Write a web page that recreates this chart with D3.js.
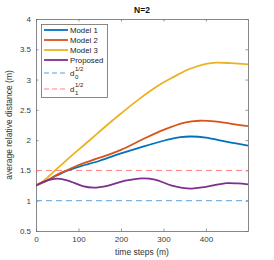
<!DOCTYPE html>
<html>
<head>
<meta charset="utf-8">
<script src="https://cdn.jsdelivr.net/npm/d3@7"></script>
<style>
  body { margin: 0; background: #fff; }
  text { font-family: "Liberation Sans", Arial, sans-serif; }
</style>
</head>
<body>
<div id="chart"></div>
<script>
// time steps and series values
var tModel1 = [0, 25, 50, 75, 100, 150, 200, 250, 300, 340, 365, 400, 450, 499];
var vModel1 = [1.25, 1.33, 1.42, 1.5, 1.56, 1.66, 1.78, 1.89, 1.99, 2.05, 2.06, 2.04, 1.97, 1.91];

var tModel2 = [0, 25, 50, 75, 100, 150, 200, 250, 300, 350, 385, 420, 460, 499];
var vModel2 = [1.25, 1.33, 1.43, 1.51, 1.59, 1.71, 1.84, 2.01, 2.17, 2.29, 2.32, 2.31, 2.27, 2.23];

var tModel3 = [0, 20, 45, 80, 125, 164, 200, 245, 290, 323, 360, 400, 425, 460, 499];
var vModel3 = [1.25, 1.34, 1.5, 1.72, 1.99, 2.23, 2.44, 2.69, 2.91, 3.04, 3.17, 3.26, 3.28, 3.27, 3.25];

var tProposed = [0, 25, 50, 80, 110, 136, 170, 210, 250, 280, 320, 365, 400, 449, 475, 499];
var vProposed = [1.25, 1.33, 1.365, 1.32, 1.24, 1.215, 1.25, 1.33, 1.37, 1.35, 1.25, 1.2, 1.23, 1.29, 1.285, 1.27];

var d0 = 1.0, d1 = 1.5;

var xTicks = [0, 100, 200, 300, 400];
var yTicks = [0.5, 1, 1.5, 2, 2.5, 3, 3.5, 4];

var seriesNames = ["Model 1", "Model 2", "Model 3", "Proposed"];
var seriesColors = ["#0072BD", "#D95319", "#EDB120", "#7E2F8E"];

var W = 274, H = 260;
var margin = {top: 19, right: 26, bottom: 29, left: 36};
var innerW = W - margin.left - margin.right;
var innerH = H - margin.top - margin.bottom;

var svg = d3.select("#chart").append("svg")
  .attr("width", W).attr("height", H);

var g = svg.append("g").attr("transform", "translate(" + margin.left + "," + margin.top + ")");

var x = d3.scaleLinear().domain([0, 499]).range([0, innerW]);
var y = d3.scaleLinear().domain([0.5, 4]).range([innerH, 0]);

// box + ticks
var tickLen = 2.5;
var axisColor = "#6b6b6b";

function styleAxis(sel) {
  sel.select(".domain").remove();
  sel.selectAll("line").attr("stroke", axisColor).attr("stroke-width", 0.7);
  sel.selectAll("text").attr("fill", "#3a3a3a").style("font-size", "8px");
}

g.append("g").attr("transform", "translate(0," + innerH + ")")
  .call(d3.axisBottom(x).tickValues(xTicks).tickSize(-tickLen).tickPadding(5).tickFormat(d3.format("d")))
  .call(styleAxis);
g.append("g")
  .call(d3.axisTop(x).tickValues(xTicks).tickSize(-tickLen).tickFormat(""))
  .call(styleAxis);
g.append("g")
  .call(d3.axisLeft(y).tickValues(yTicks).tickSize(-tickLen).tickPadding(5).tickFormat(function(d){ return String(d); }))
  .call(styleAxis);
g.append("g").attr("transform", "translate(" + innerW + ",0)")
  .call(d3.axisRight(y).tickValues(yTicks).tickSize(-tickLen).tickFormat(""))
  .call(styleAxis);

g.append("rect")
  .attr("x", 0.5).attr("y", 0.5)
  .attr("width", innerW).attr("height", innerH)
  .attr("fill", "none").attr("stroke", axisColor).attr("stroke-width", 0.8);

// dashed reference lines
g.append("line")
  .attr("x1", x(0)).attr("x2", x(499))
  .attr("y1", y(d0)).attr("y2", y(d0))
  .attr("stroke", "#5d9fd8").attr("stroke-width", 1).attr("stroke-dasharray", "6,4");
g.append("line")
  .attr("x1", x(0)).attr("x2", x(499))
  .attr("y1", y(d1)).attr("y2", y(d1))
  .attr("stroke", "#ff8080").attr("stroke-width", 1).attr("stroke-dasharray", "6,4");

// series
var line = d3.line()
  .x(function(d){ return x(d[0]); })
  .y(function(d){ return y(d[1]); })
  .curve(d3.curveCatmullRom.alpha(0.5));

var allT = [tModel1, tModel2, tModel3, tProposed];
var allV = [vModel1, vModel2, vModel3, vProposed];
var clip = svg.append("clipPath").attr("id", "plotclip")
  .append("rect").attr("width", innerW).attr("height", innerH);

for (var i = 0; i < 4; i++) {
  var pts = allT[i].map(function(t, k){ return [t, allV[i][k]]; });
  g.append("path")
    .datum(pts)
    .attr("d", line)
    .attr("fill", "none")
    .attr("stroke", seriesColors[i])
    .attr("stroke-width", 1.8)
    .attr("clip-path", "url(#plotclip)");
}

// legend
var lg = svg.append("g").attr("transform", "translate(41,24)");
lg.append("rect").attr("x", 0.5).attr("y", 0.5).attr("width", 66).attr("height", 73)
  .attr("fill", "#fff").attr("stroke", axisColor).attr("stroke-width", 0.8);

var rowY = [6, 16, 26, 36];
seriesNames.forEach(function(name, i){
  lg.append("line").attr("x1", 3).attr("x2", 27).attr("y1", rowY[i]).attr("y2", rowY[i])
    .attr("stroke", seriesColors[i]).attr("stroke-width", 1.8);
  lg.append("text").attr("x", 29).attr("y", rowY[i] + 2.8).text(name)
    .style("font-size", "7.8px").attr("fill", "#222");
});

var dashRows = [{y: 49, c: "#5d9fd8", sub: "0"}, {y: 65, c: "#ff8080", sub: "1"}];
dashRows.forEach(function(r){
  lg.append("line").attr("x1", 3).attr("x2", 27).attr("y1", r.y).attr("y2", r.y)
    .attr("stroke", r.c).attr("stroke-width", 1).attr("stroke-dasharray", "5,3");
  lg.append("text").attr("x", 29).attr("y", r.y + 3).text("d")
    .style("font-size", "7.8px").attr("fill", "#222");
  lg.append("text").attr("x", 34).attr("y", r.y + 6).text(r.sub)
    .style("font-size", "6px").attr("fill", "#222");
  lg.append("text").attr("x", 34).attr("y", r.y - 2).text("1/2")
    .style("font-size", "6px").attr("fill", "#222");
});

// title and axis labels
svg.append("text").attr("x", margin.left + innerW / 2).attr("y", 13)
  .attr("text-anchor", "middle").style("font-size", "8.5px").style("font-weight", "bold")
  .attr("fill", "#111").text("N=2");

svg.append("text").attr("x", margin.left + innerW / 2).attr("y", 255)
  .attr("text-anchor", "middle").style("font-size", "8.5px").attr("fill", "#333")
  .text("time steps (m)");

svg.append("text")
  .attr("transform", "translate(12," + (margin.top + innerH / 2) + ") rotate(-90)")
  .attr("text-anchor", "middle").style("font-size", "8.5px").attr("fill", "#333")
  .text("average relative distance (m)");
</script>
</body>
</html>
